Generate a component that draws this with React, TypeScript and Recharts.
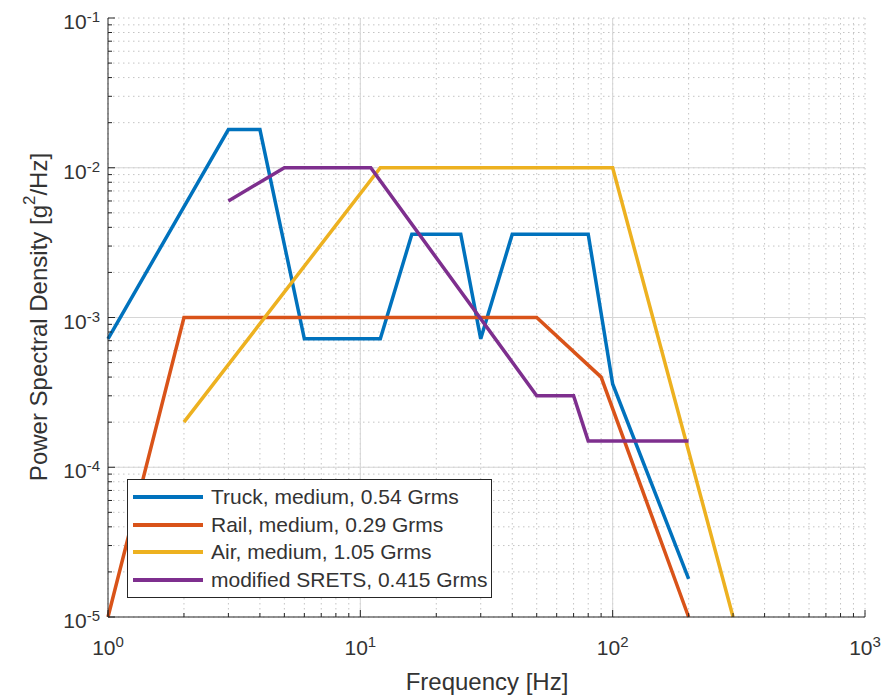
import React from "react";
import { LineChart, Line, XAxis, YAxis, CartesianGrid, Legend, ReferenceLine } from "recharts";

// PSD profiles (log-log)
const TRUCK_FREQ = [1, 3, 4, 6, 12, 16, 25, 30, 40, 80, 100, 200];
const TRUCK_PSD = [0.00072, 0.018, 0.018, 0.00072, 0.00072, 0.0036, 0.0036, 0.00072, 0.0036, 0.0036, 0.00036, 0.000018];
const RAIL_FREQ = [1, 2, 50, 90, 200];
const RAIL_PSD = [0.00001, 0.001, 0.001, 0.0004, 0.00001];
const AIR_FREQ = [2, 12, 100, 300];
const AIR_PSD = [0.0002, 0.01, 0.01, 0.00001];
const SRETS_FREQ = [3, 5, 11, 50, 70, 80, 200];
const SRETS_PSD = [0.006, 0.01, 0.01, 0.0003, 0.0003, 0.00015, 0.00015];

const X_EXPONENTS = [0, 1, 2, 3];
const Y_EXPONENTS = [-5, -4, -3, -2, -1];
const MINOR_STEPS = [2, 3, 4, 5, 6, 7, 8, 9];

const SERIES = [
  { name: "Truck, medium, 0.54 Grms", color: "#0072BD", freq: TRUCK_FREQ, psd: TRUCK_PSD },
  { name: "Rail, medium, 0.29 Grms", color: "#D95319", freq: RAIL_FREQ, psd: RAIL_PSD },
  { name: "Air, medium, 1.05 Grms", color: "#EDB120", freq: AIR_FREQ, psd: AIR_PSD },
  { name: "modified SRETS, 0.415 Grms", color: "#7E2F8E", freq: SRETS_FREQ, psd: SRETS_PSD },
];

const FONT = '"Liberation Sans", Arial, Helvetica, sans-serif';
const INK = "#333";
const AXIS = "#262626";

const logTicks = (exps: number[]) =>
  exps.flatMap((e, i) => {
    const base = Math.pow(10, e);
    if (i === exps.length - 1) return [base];
    return [base, ...MINOR_STEPS.map((m) => m * base)];
  });

const X_TICKS = logTicks(X_EXPONENTS);
const Y_TICKS = logTicks(Y_EXPONENTS);
const X_MAJOR = X_EXPONENTS.map((e) => Math.pow(10, e));
const Y_MAJOR = Y_EXPONENTS.map((e) => Math.pow(10, e));

function isMajor(v: number) {
  const l = Math.log10(v);
  return Math.abs(l - Math.round(l)) < 1e-6;
}

function makeTick(side: "bottom" | "top" | "left" | "right") {
  return (props: any) => {
    const { x, y, payload } = props;
    const v = payload.value;
    const major = isMajor(v);
    const len = major ? 7 : 4;
    let x2 = x;
    let y2 = y;
    if (side === "bottom") y2 = y - len;
    if (side === "top") y2 = y + len;
    if (side === "left") x2 = x + len;
    if (side === "right") x2 = x - len;
    const exp = Math.round(Math.log10(v));
    let label = null;
    if (major && side === "bottom") {
      label = (
        <text x={x} y={y + 38} textAnchor="middle" fill={INK} fontSize={21} fontFamily={FONT}>
          10<tspan dy={-8} fontSize={15}>{exp}</tspan>
        </text>
      );
    }
    if (major && side === "left") {
      label = (
        <text x={x - 8} y={y + 11} textAnchor="end" fill={INK} fontSize={21} fontFamily={FONT}>
          10<tspan dy={-7} fontSize={15}>{exp}</tspan>
        </text>
      );
    }
    return (
      <g>
        <line x1={x} y1={y} x2={x2} y2={y2} stroke={AXIS} strokeWidth={1} />
        {label}
      </g>
    );
  };
}

const renderLegend = () => (
  <div
    style={{
      border: `1px solid ${AXIS}`,
      background: "#fff",
      width: 365,
      height: 119,
      boxSizing: "border-box",
      paddingTop: 3,
      fontFamily: FONT,
      fontSize: 21,
      color: INK,
    }}
  >
    {SERIES.map((s) => (
      <div key={s.name} style={{ display: "flex", alignItems: "center", height: 27.7 }}>
        <svg width={83} height={6} style={{ flex: "none" }}>
          <line x1={5} y1={3} x2={75} y2={3} stroke={s.color} strokeWidth={4} />
        </svg>
        <span style={{ whiteSpace: "nowrap" }}>{s.name}</span>
      </div>
    ))}
  </div>
);

const XLabel = () => (
  <text x={487} y={690} textAnchor="middle" fill={INK} fontSize={24} fontFamily={FONT}>
    Frequency [Hz]
  </text>
);

const YLabel = () => (
  <text
    x={38}
    y={317}
    transform="rotate(-90 38 317)"
    textAnchor="middle"
    dominantBaseline="central"
    fill={INK}
    fontSize={24}
    fontFamily={FONT}
  >
    Power Spectral Density [g<tspan dy={-9} fontSize={17}>2</tspan>
    <tspan dy={9}>/Hz]</tspan>
  </text>
);

export default function App() {
  const lines = SERIES.map((s) => ({
    ...s,
    data: s.freq.map((f, i) => ({ x: f, y: s.psd[i] })),
  }));

  return (
    <div style={{ position: "absolute", left: 0, top: 0, width: 885, height: 699, background: "#fff" }}>
      <LineChart width={885} height={699} margin={{ top: 18, right: 20, bottom: 42, left: 38 }}>
        <CartesianGrid stroke="#c4c4c4" strokeDasharray="1.5 3.5" />
        {X_MAJOR.slice(1, -1).map((v) => (
          <ReferenceLine key={"vx" + v} x={v} stroke="#d6d6d6" strokeWidth={1} />
        ))}
        {Y_MAJOR.slice(1, -1).map((v) => (
          <ReferenceLine key={"hy" + v} y={v} stroke="#d6d6d6" strokeWidth={1} />
        ))}
        <XAxis
          dataKey="x"
          type="number"
          scale="log"
          domain={[1, 1000]}
          ticks={X_TICKS}
          interval={0}
          tickSize={0}
          tickMargin={0}
          tickLine={false}
          tick={makeTick("bottom")}
          axisLine={{ stroke: AXIS }}
          height={40}
          label={{ content: XLabel }}
        />
        <XAxis
          xAxisId="top"
          orientation="top"
          dataKey="x"
          type="number"
          scale="log"
          domain={[1, 1000]}
          ticks={X_TICKS}
          interval={0}
          tickSize={0}
          tickMargin={0}
          tickLine={false}
          tick={makeTick("top")}
          axisLine={{ stroke: AXIS }}
          height={0}
        />
        <YAxis
          type="number"
          scale="log"
          domain={[0.00001, 0.1]}
          ticks={Y_TICKS}
          interval={0}
          tickSize={0}
          tickMargin={0}
          tickLine={false}
          tick={makeTick("left")}
          axisLine={{ stroke: AXIS }}
          width={70}
          label={{ content: YLabel }}
        />
        <YAxis
          yAxisId="right"
          orientation="right"
          type="number"
          scale="log"
          domain={[0.00001, 0.1]}
          ticks={Y_TICKS}
          interval={0}
          tickSize={0}
          tickMargin={0}
          tickLine={false}
          tick={makeTick("right")}
          axisLine={{ stroke: AXIS }}
          width={0}
        />
        {lines.map((s) => (
          <Line
            key={s.name}
            data={s.data}
            dataKey="y"
            name={s.name}
            stroke={s.color}
            strokeWidth={3.5}
            dot={false}
            activeDot={false}
            isAnimationActive={false}
          />
        ))}
        <Legend
          layout="horizontal"
          verticalAlign="middle"
          align="center"
          content={renderLegend}
          wrapperStyle={{ position: "absolute", left: 127, top: 479, width: 365, height: 119 }}
        />
      </LineChart>
    </div>
  );
}
